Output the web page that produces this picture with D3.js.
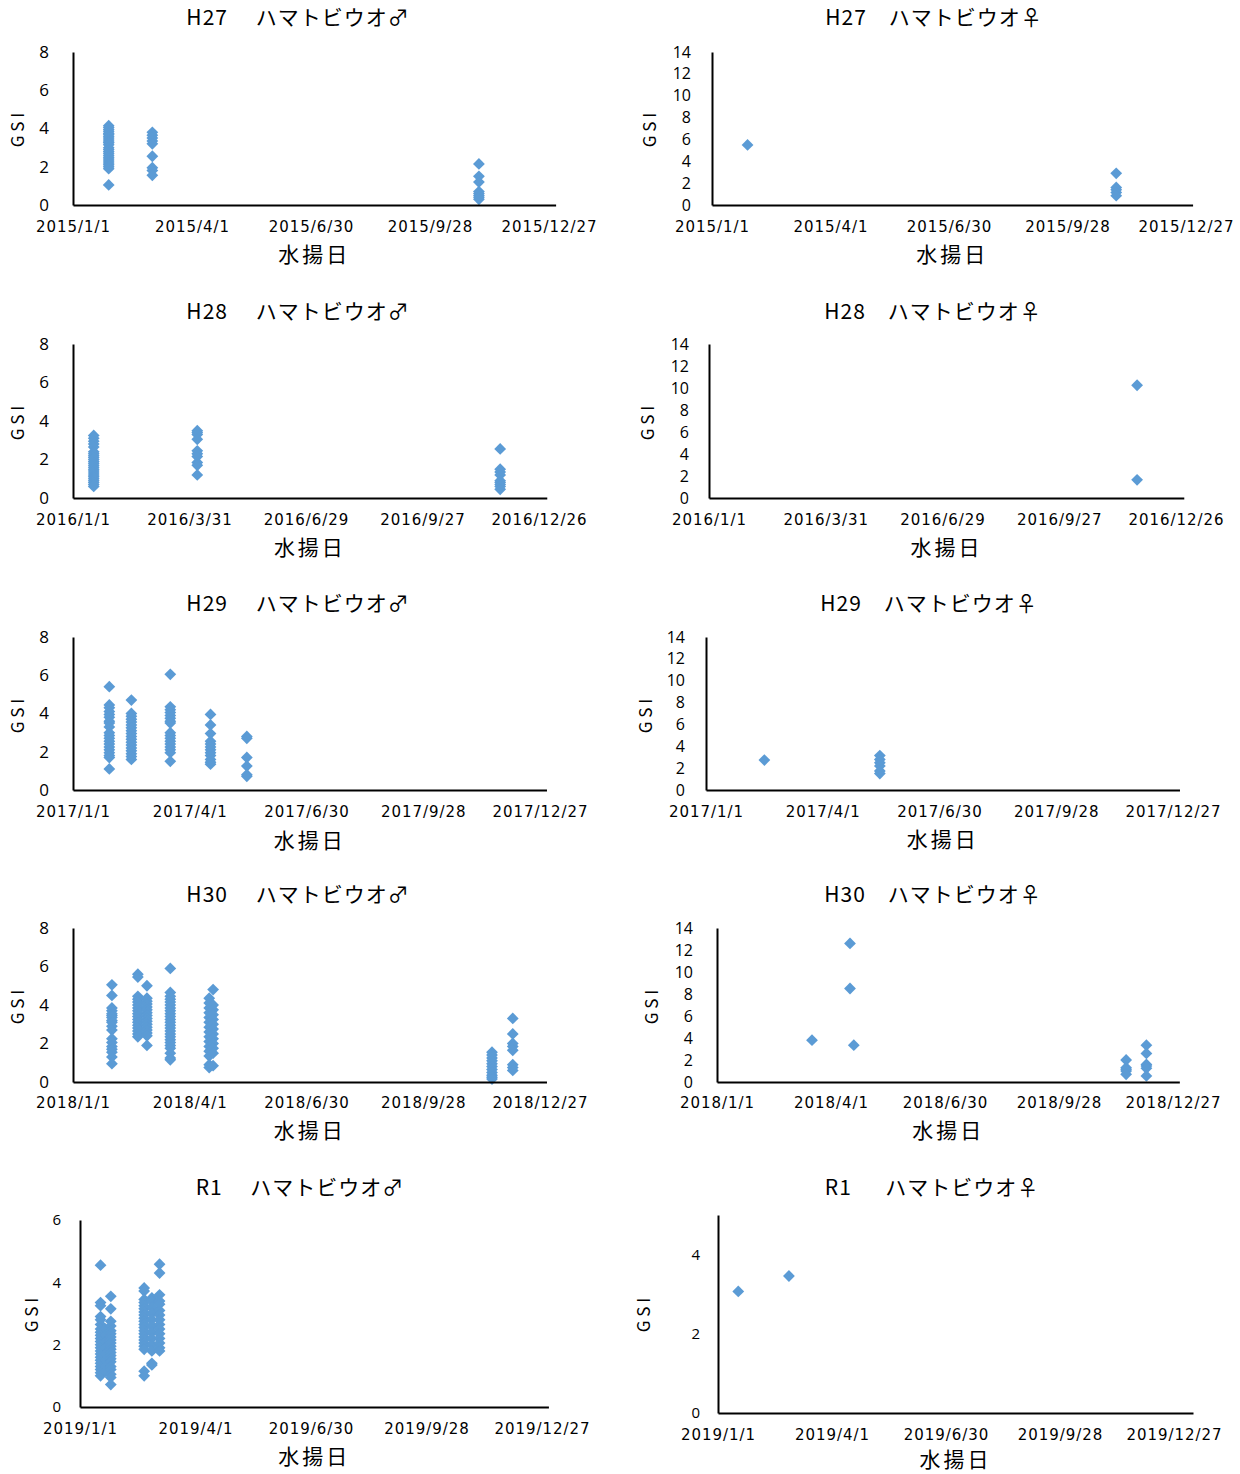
<!DOCTYPE html>
<html><head><meta charset="utf-8">
<script src="https://cdn.jsdelivr.net/npm/d3@7"></script>
<style>
body{margin:0;background:#fff}
svg{display:block}
text{white-space:pre}
</style>
</head><body>
<svg id="chart" width="1240" height="1474"></svg>
<script>
// ---------------- DATA ----------------
const titles = [
  "H27　 ハマトビウオ♂", "H27　ハマトビウオ♀",
  "H28　 ハマトビウオ♂", "H28　ハマトビウオ♀",
  "H29　 ハマトビウオ♂", "H29　ハマトビウオ♀",
  "H30　 ハマトビウオ♂", "H30　ハマトビウオ♀",
  "R1　 ハマトビウオ♂",  "R1　  ハマトビウオ♀"
];
const xAxisTitle = "水揚日";
const yAxisTitle = "G S I";

const xTicks2015 = ["2015/1/1","2015/4/1","2015/6/30","2015/9/28","2015/12/27"];
const xTicks2016 = ["2016/1/1","2016/3/31","2016/6/29","2016/9/27","2016/12/26"];
const xTicks2017 = ["2017/1/1","2017/4/1","2017/6/30","2017/9/28","2017/12/27"];
const xTicks2018 = ["2018/1/1","2018/4/1","2018/6/30","2018/9/28","2018/12/27"];
const xTicks2019 = ["2019/1/1","2019/4/1","2019/6/30","2019/9/28","2019/12/27"];

const yTicksMale = [0,2,4,6,8];
const yTicksFemale = [0,2,4,6,8,10,12,14];
const yTicksR1Male = [0,2,4,6];
const yTicksR1Female = [0,2,4];

// H27 male
const h27mDates = ["2015/1/28","2015/3/2","2015/11/4"];
const h27mGSI = [
  [4.15,4.05,3.95,3.85,3.75,3.7,3.6,3.5,3.4,3.3,3.25,3.15,3.0,2.9,2.8,2.7,2.6,2.5,2.4,2.3,2.2,2.1,2.0,1.9,1.05],
  [3.8,3.65,3.5,3.35,3.2,2.55,1.95,1.8,1.55],
  [2.15,1.5,1.2,0.7,0.6,0.5,0.4,0.3]
];
// H27 female
const h27fDates = ["2015/1/28","2015/11/4"];
const h27fGSI = [
  [5.5],
  [2.9,1.6,1.4,1.15,0.85]
];
// H28 male
const h28mDates = ["2016/1/17","2016/4/6","2016/11/26"];
const h28mGSI = [
  [3.25,3.1,2.95,2.8,2.65,2.4,2.3,2.2,2.1,2.0,1.9,1.8,1.7,1.6,1.5,1.4,1.3,1.2,1.1,1.0,0.9,0.8,0.7,0.6],
  [3.5,3.4,3.3,3.05,2.45,2.3,2.15,1.85,1.7,1.2],
  [2.55,1.5,1.35,1.2,0.9,0.8,0.7,0.6,0.45]
];
// H28 female
const h28fDates = ["2016/11/26"];
const h28fGSI = [
  [10.25,1.65]
];
// H29 male
const h29mDates = ["2017/1/29","2017/2/15","2017/3/17","2017/4/17","2017/5/15"];
const h29mGSI = [
  [5.4,4.45,4.3,4.1,3.95,3.8,3.6,3.5,3.3,3.0,2.85,2.7,2.55,2.4,2.25,2.1,1.95,1.8,1.7,1.1],
  [4.7,4.0,3.85,3.7,3.55,3.4,3.25,3.1,2.95,2.8,2.65,2.5,2.35,2.2,2.05,1.9,1.75,1.6],
  [6.05,4.35,4.2,4.05,3.9,3.75,3.6,3.5,3.0,2.85,2.7,2.55,2.4,2.25,2.1,1.95,1.5],
  [3.95,3.4,2.95,2.55,2.4,2.25,2.1,1.95,1.8,1.6,1.45,1.35],
  [2.8,2.7,1.7,1.25,0.8,0.72]
];
// H29 female
const h29fDates = ["2017/2/15","2017/5/15"];
const h29fGSI = [
  [2.74],
  [3.15,2.8,2.5,2.2,1.75,1.5]
];
// H30 male
const h30mDates = ["2018/1/31","2018/2/20","2018/2/27","2018/3/17","2018/4/16","2018/4/19","2018/11/20","2018/12/6"];
const h30mGSI = [
  [5.05,4.5,3.85,3.7,3.55,3.45,3.35,3.2,3.1,2.9,2.7,2.25,2.05,1.85,1.7,1.55,1.3,0.95],
  [5.6,5.45,4.45,4.3,4.15,4.0,3.85,3.7,3.55,3.4,3.25,3.1,2.95,2.8,2.65,2.5,2.35],
  [5.0,4.35,4.2,4.05,3.9,3.75,3.6,3.45,3.3,3.15,3.0,2.85,2.7,2.55,2.4,1.9],
  [5.9,4.65,4.45,4.3,4.15,4.0,3.85,3.7,3.55,3.4,3.25,3.1,2.95,2.8,2.65,2.5,2.35,2.2,2.05,1.9,1.75,1.5,1.25,1.15],
  [4.35,4.1,3.85,3.6,3.35,3.1,2.85,2.6,2.35,2.1,1.85,1.6,1.35,0.9,0.75],
  [4.8,4.0,3.75,3.5,3.25,3.0,2.75,2.5,2.25,2.0,1.75,1.5,0.85],
  [1.55,1.4,1.25,1.1,0.95,0.8,0.65,0.5,0.35,0.25,0.15],
  [3.3,2.5,2.0,1.85,1.65,0.9,0.75,0.6]
];
// H30 female
const h30fDates = ["2018/3/17","2018/4/16","2018/4/19","2018/11/20","2018/12/6"];
const h30fGSI = [
  [3.8],
  [12.6,8.5],
  [3.35],
  [2.0,1.3,1.15,1.0,0.7],
  [3.35,2.6,1.6,1.45,1.25,0.55]
];
// R1 male
const r1mDates = ["2019/1/17","2019/1/21","2019/1/25","2019/2/20","2019/2/26","2019/3/4"];
const r1mGSI = [
  [4.55,3.35,3.25,2.9,2.8,2.65,2.5,2.4,2.3,2.2,2.1,2.0,1.9,1.8,1.7,1.6,1.5,1.4,1.3,1.2,1.1,1.0],
  [2.5,2.3,2.1,1.9,1.7,1.5,1.3,1.15],
  [3.55,3.15,2.75,2.6,2.45,2.35,2.25,2.15,2.05,1.95,1.85,1.75,1.65,1.55,1.45,1.3,1.2,1.05,0.95,0.72],
  [3.82,3.72,3.45,3.35,3.25,3.15,3.05,2.95,2.85,2.75,2.65,2.55,2.45,2.35,2.25,2.15,2.05,1.95,1.85,1.15,1.0],
  [3.5,3.4,3.2,3.0,2.8,2.6,2.4,2.2,2.0,1.8,1.4,1.35],
  [4.58,4.3,3.6,3.4,3.3,3.1,2.95,2.8,2.65,2.5,2.35,2.2,2.05,1.9,1.8]
];
// R1 female
const r1fDates = ["2019/1/17","2019/2/26"];
const r1fGSI = [
  [3.07],
  [3.46]
];

// ---------------- LAYOUT ----------------
const panels = [
  {t:0, dates:h27mDates, gsi:h27mGSI, xt:xTicks2015, yt:yTicksMale,     yMax:8,  axDays:365, x0:73,  xL:549,  top:52,   bot:205,  yGap:24, yFs:17,   tX:298, tY:17,   xlY:227,  atY:254,  gX:18,  gY:130},
  {t:1, dates:h27fDates, gsi:h27fGSI, xt:xTicks2015, yt:yTicksFemale,   yMax:14, axDays:365, x0:712, xL:1186, top:52,   bot:205,  yGap:21, yFs:16,   tX:934, tY:17,   xlY:227,  atY:254,  gX:650, gY:130},
  {t:2, dates:h28mDates, gsi:h28mGSI, xt:xTicks2016, yt:yTicksMale,     yMax:8,  axDays:366, x0:73,  xL:539,  top:344,  bot:498,  yGap:24, yFs:17,   tX:298, tY:311,  xlY:520,  atY:547,  gX:18,  gY:423},
  {t:3, dates:h28fDates, gsi:h28fGSI, xt:xTicks2016, yt:yTicksFemale,   yMax:14, axDays:366, x0:709, xL:1176, top:344,  bot:498,  yGap:20, yFs:16,   tX:933, tY:311,  xlY:520,  atY:547,  gX:648, gY:423},
  {t:4, dates:h29mDates, gsi:h29mGSI, xt:xTicks2017, yt:yTicksMale,     yMax:8,  axDays:365, x0:73,  xL:540,  top:637,  bot:790,  yGap:24, yFs:17,   tX:298, tY:603,  xlY:812,  atY:840,  gX:18,  gY:716},
  {t:5, dates:h29fDates, gsi:h29fGSI, xt:xTicks2017, yt:yTicksFemale,   yMax:14, axDays:365, x0:706, xL:1173, top:637,  bot:790,  yGap:21, yFs:16,   tX:929, tY:603,  xlY:812,  atY:839,  gX:646, gY:716},
  {t:6, dates:h30mDates, gsi:h30mGSI, xt:xTicks2018, yt:yTicksMale,     yMax:8,  axDays:365, x0:73,  xL:540,  top:928,  bot:1082, yGap:24, yFs:17,   tX:298, tY:894,  xlY:1103, atY:1130, gX:18,  gY:1007},
  {t:7, dates:h30fDates, gsi:h30fGSI, xt:xTicks2018, yt:yTicksFemale,   yMax:14, axDays:365, x0:717, xL:1173, top:928,  bot:1082, yGap:24, yFs:16,   tX:933, tY:894,  xlY:1103, atY:1130, gX:652, gY:1007},
  {t:8, dates:r1mDates,  gsi:r1mGSI,  xt:xTicks2019, yt:yTicksR1Male,   yMax:6,  axDays:365, x0:80,  xL:542,  top:1220, bot:1407, yGap:19, yFs:15,   tX:300, tY:1187, xlY:1429, atY:1456, gX:32,  gY:1315},
  {t:9, dates:r1fDates,  gsi:r1fGSI,  xt:xTicks2019, yt:yTicksR1Female, yMax:5,  axDays:375, x0:718, xL:1174, top:1215, bot:1413, yGap:18, yFs:15,   tX:932, tY:1187, xlY:1435, atY:1459, gX:644, gY:1315}
];

const parse = d3.utcParse("%Y/%m/%d");
const svg = d3.select("#chart");
const markerColor = "#5B9BD5";
const diamond = {
  draw(ctx, size) {
    const r = Math.sqrt(size / 2);
    ctx.moveTo(0, -r); ctx.lineTo(r, 0); ctx.lineTo(0, r); ctx.lineTo(-r, 0); ctx.closePath();
  }
};
const sym = d3.symbol().type(diamond).size(2 * 5.9 * 5.9);

panels.forEach(p => {
  const g = svg.append("g");
  const start = parse(p.xt[0]);
  const lastTick = parse(p.xt[p.xt.length - 1]);
  const tickSpanDays = d3.utcDay.count(start, lastTick);
  const end = d3.utcDay.offset(start, p.axDays);
  const xEnd = p.x0 + (p.xL - p.x0) * p.axDays / tickSpanDays;
  const x = d3.scaleUtc().domain([start, end]).range([p.x0, xEnd]);
  const y = d3.scaleLinear().domain([0, p.yMax]).range([p.bot, p.top]);

  // points
  const pts = [];
  p.dates.forEach((d, i) => p.gsi[i].forEach(v => pts.push({d: parse(d), v})));
  g.append("g").selectAll("path").data(pts).join("path")
    .attr("d", sym)
    .attr("transform", d => `translate(${x(d.d)},${y(d.v)})`)
    .attr("fill", markerColor);

  // x axis
  const xa = d3.axisBottom(x)
    .tickValues(p.xt.map(parse))
    .tickFormat((d, i) => p.xt[i])
    .tickSize(0).tickSizeOuter(0).tickPadding(0);
  const gx = g.append("g").attr("transform", `translate(0,${p.bot})`).call(xa);
  gx.select(".domain").attr("stroke", "#000").attr("stroke-width", 2);
  gx.selectAll("text")
    .attr("y", p.xlY - p.bot).attr("dy", "0.36em")
    .attr("font-family", "DejaVu Sans").attr("font-size", 15)
    .attr("letter-spacing", 0.95).attr("fill", "#000");

  // y axis
  const ya = d3.axisLeft(y).tickValues(p.yt).tickFormat(d3.format("d"))
    .tickSize(0).tickSizeOuter(0).tickPadding(p.yGap);
  const gy = g.append("g").attr("transform", `translate(${p.x0},0)`).call(ya);
  gy.select(".domain").attr("stroke", "#000").attr("stroke-width", 2);
  gy.selectAll("text")
    .attr("font-family", "Open Sans").attr("font-size", p.yFs).attr("fill", "#000");
  gy.selectAll(".tick line").remove();
  gx.selectAll(".tick line").remove();

  // title
  g.append("text").attr("x", p.tX).attr("y", p.tY).attr("dy", "0.36em")
    .attr("text-anchor", "middle").attr("font-family", "Noto Sans CJK JP")
    .attr("font-size", 21).attr("letter-spacing", 1).attr("fill", "#000")
    .text(titles[p.t]);

  // x axis title
  g.append("text").attr("x", (p.x0 + xEnd) / 2).attr("y", p.atY).attr("dy", "0.36em")
    .attr("text-anchor", "middle").attr("font-family", "Noto Sans CJK JP")
    .attr("font-size", 21).attr("letter-spacing", 3).attr("fill", "#000")
    .text(xAxisTitle);

  // y axis title
  g.append("text").attr("transform", `translate(${p.gX},${p.gY}) rotate(-90)`)
    .attr("dy", "0.36em").attr("text-anchor", "middle")
    .attr("font-family", "Noto Sans CJK JP").attr("font-size", 17).attr("fill", "#000")
    .text(yAxisTitle);
});
</script>
</body></html>
